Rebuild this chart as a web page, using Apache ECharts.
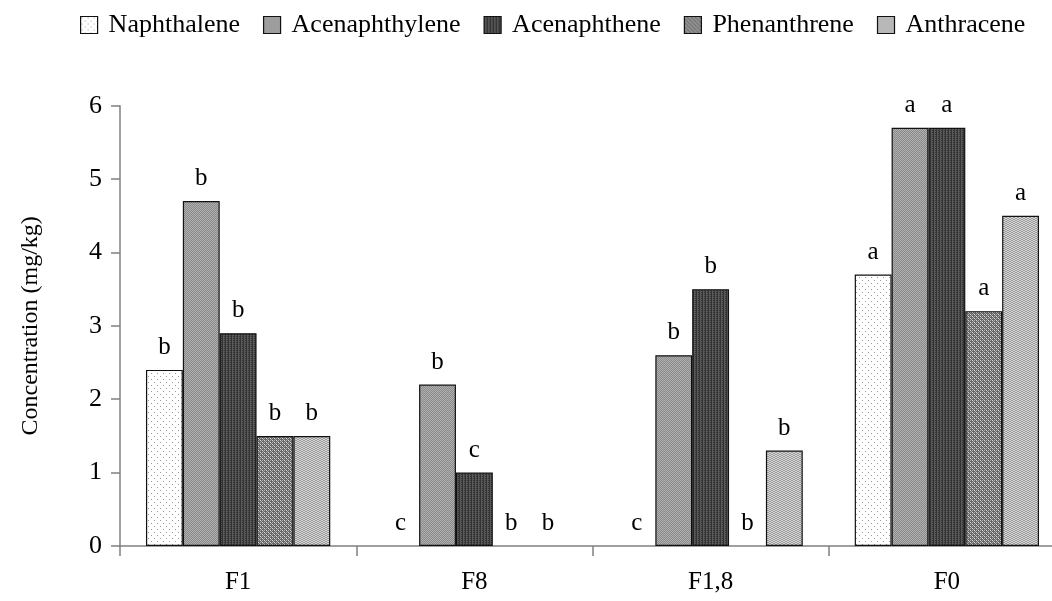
<!DOCTYPE html>
<html>
<head>
<meta charset="utf-8">
<script src="https://cdn.jsdelivr.net/npm/echarts@6/dist/echarts.min.js"></script>
<style>html,body{margin:0;padding:0;background:#fff;}#c{width:1052px;height:601px;}</style>
</head>
<body>
<div id="c"></div>
<script>
const categories = ['F1', 'F8', 'F1,8', 'F0'];
const seriesNames = ['Naphthalene', 'Acenaphthylene', 'Acenaphthene', 'Phenanthrene', 'Anthracene'];
const naphthalene = [2.4, 0, 0, 3.7];
const acenaphthylene = [4.7, 2.2, 2.6, 5.7];
const acenaphthene = [2.9, 1.0, 3.5, 5.7];
const phenanthrene = [1.5, 0, 0, 3.2];
const anthracene = [1.5, 0, 1.3, 4.5];
const naphthaleneLetters = ['b', 'c', 'c', 'a'];
const acenaphthyleneLetters = ['b', 'b', 'b', 'a'];
const acenaphtheneLetters = ['b', 'c', 'b', 'a'];
const phenanthreneLetters = ['b', 'b', 'b', 'a'];
const anthraceneLetters = ['b', 'b', 'b', 'a'];
const yTicks = [0, 1, 2, 3, 4, 5, 6];

function pattern(w, h, draw) {
  const c = document.createElement('canvas');
  c.width = w; c.height = h;
  const g = c.getContext('2d');
  draw(g);
  return { image: c, repeat: 'repeat' };
}
const patterns = [
  pattern(6, 6, g => { g.fillStyle = '#fff'; g.fillRect(0,0,6,6); g.fillStyle = '#999'; g.fillRect(1,1,1,1); g.fillRect(4,4,1,1); }),
  pattern(2, 2, g => { g.fillStyle = '#8a8a8a'; g.fillRect(0,0,2,2); g.fillStyle = '#b0b0b0'; g.fillRect(0,0,1,1); g.fillRect(1,1,1,1); }),
  pattern(3, 2, g => { g.fillStyle = '#333'; g.fillRect(0,0,3,2); g.fillStyle = '#5a5a5a'; g.fillRect(1,0,1,2); g.fillRect(2,1,1,1); }),
  pattern(4, 4, g => { g.fillStyle = '#666'; g.fillRect(0,0,4,4); g.fillStyle = '#ddd'; g.fillRect(0,0,1,1); g.fillRect(2,2,1,1); g.fillStyle = '#aaa'; g.fillRect(2,0,1,1); g.fillRect(0,2,1,1); g.fillRect(1,1,1,1); g.fillRect(3,3,1,1); }),
  pattern(4, 4, g => { g.fillStyle = '#d8d8d8'; g.fillRect(0,0,4,4); g.fillStyle = '#999'; g.fillRect(0,0,1,1); g.fillRect(1,1,1,1); g.fillRect(2,1,1,1); g.fillRect(3,0,1,1); g.fillRect(0,2,1,1); g.fillRect(1,3,1,1); g.fillRect(2,3,1,1); g.fillRect(3,2,1,1); })
];

const values = [naphthalene, acenaphthylene, acenaphthene, phenanthrene, anthracene];
const letters = [naphthaleneLetters, acenaphthyleneLetters, acenaphtheneLetters, phenanthreneLetters, anthraceneLetters];
const font = 'Liberation Serif';

const chart = echarts.init(document.getElementById('c'));
chart.setOption({
  animation: false,
  backgroundColor: '#fff',
  legend: {
    top: 7, left: 75,
    itemWidth: 17, itemHeight: 17, itemGap: 23,
    icon: 'rect',
    textStyle: { fontFamily: font, fontSize: 26, color: '#000', padding: [0, 0, 0, 6] },
    itemStyle: { borderColor: '#111', borderWidth: 1.2 },
    data: seriesNames
  },
  grid: { left: 120, top: 105.7, width: 945, height: 440.3, outerBoundsMode: 'none', containLabel: false },
  xAxis: {
    type: 'category', data: categories,
    axisLine: { lineStyle: { color: '#808080', width: 1.5 } },
    axisTick: { show: true, alignWithLabel: false, length: 10, lineStyle: { color: '#808080', width: 1.5 } },
    axisLabel: { fontFamily: font, fontSize: 25, color: '#000', margin: 24 }
  },
  yAxis: {
    type: 'value', min: 0, max: 6, interval: 1,
    name: 'Concentration (mg/kg)', nameLocation: 'middle', nameGap: 77,
    nameTextStyle: { fontFamily: font, fontSize: 24, color: '#000' },
    axisLine: { show: true, lineStyle: { color: '#808080', width: 1.5 } },
    axisTick: { show: true, length: 9, lineStyle: { color: '#808080', width: 1.5 } },
    splitLine: { show: false },
    axisLabel: { fontFamily: font, fontSize: 26, color: '#000', margin: 18, formatter: v => yTicks.includes(v) ? String(v) : '' }
  },
  series: seriesNames.map((name, i) => ({
    name, type: 'bar',
    data: values[i].map(v => v === 0 ? { value: v, itemStyle: { borderWidth: 0 } } : v),
    barGap: '0%', barCategoryGap: '22%',
    itemStyle: { color: patterns[i], borderColor: '#111', borderWidth: 1.2 },
    label: {
      show: true, position: 'top', distance: 10,
      fontFamily: font, fontSize: 25, color: '#000',
      formatter: p => letters[i][p.dataIndex]
    }
  }))
});
</script>
</body>
</html>
